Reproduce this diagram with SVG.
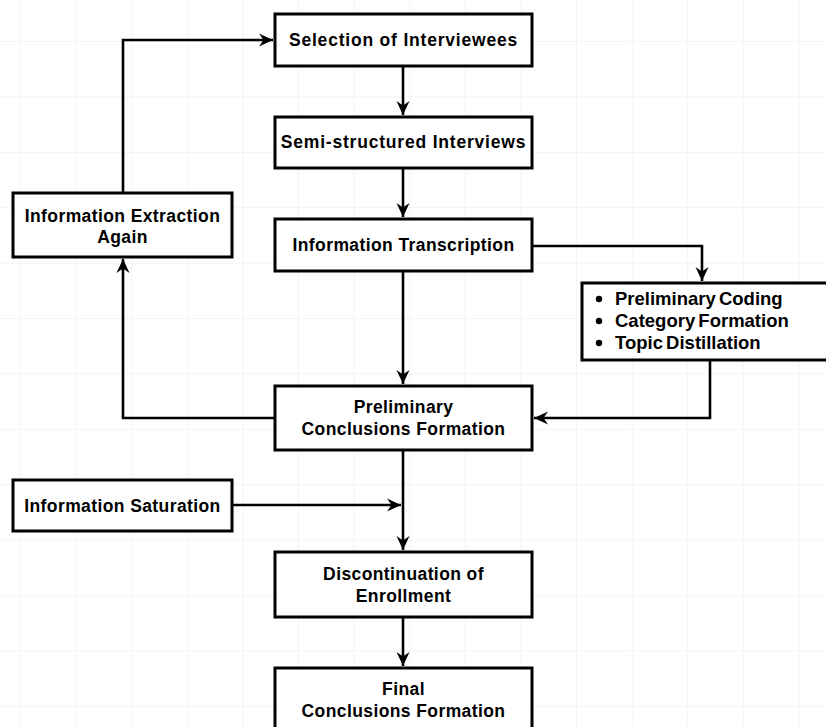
<svg xmlns="http://www.w3.org/2000/svg" width="826" height="727" viewBox="0 0 826 727">
<defs>
<pattern id="grid" x="20" y="41" width="55.6" height="55.4" patternUnits="userSpaceOnUse">
<path d="M0,0 H55.6 M0,0 V55.4" fill="none" stroke="#f1f1f1" stroke-width="1.5"/>
</pattern>
<marker id="arr" viewBox="-14 -8 16 16" refX="0" refY="0" markerWidth="16" markerHeight="16" markerUnits="userSpaceOnUse" orient="auto">
<path d="M0,0 L-14,-6.5 L-9.5,0 L-14,6.5 Z" fill="#000"/>
</marker>
<style>
.box{fill:#fff;stroke:#000;stroke-width:3}
.t{font-family:"Liberation Sans",Arial,sans-serif;font-weight:bold;font-size:17.5px;fill:#000;text-anchor:middle;letter-spacing:0.4px}
.w{letter-spacing:0.8px}
.l{font-family:"Liberation Sans",Arial,sans-serif;font-weight:bold;font-size:18.5px;fill:#000;word-spacing:-2px}
.c{fill:none;stroke:#000;stroke-width:2.6;marker-end:url(#arr)}
</style>
</defs>
<rect width="826" height="727" fill="#fff"/>
<rect width="826" height="727" fill="url(#grid)"/>
<g id="connectors">
<path class="c" d="M403,66 V115"/>
<path class="c" d="M403,168 V217"/>
<path class="c" d="M403,271 V384"/>
<path class="c" d="M532,246 H702 V281"/>
<path class="c" d="M710,360 V418 H534"/>
<path class="c" d="M275,418 H123 V259"/>
<path class="c" d="M123,193 V40 H273"/>
<path class="c" d="M403,450 V550"/>
<path class="c" d="M232,505 H401"/>
<path class="c" d="M403,617 V666"/>
</g>
<g id="selection">
<rect class="box" x="275" y="14" width="257" height="52"/>
<text class="t w" x="403.5" y="46">Selection of Interviewees</text>
</g>
<g id="semi">
<rect class="box" x="275" y="117" width="257" height="51"/>
<text class="t w" x="403.5" y="148">Semi-structured Interviews</text>
</g>
<g id="transcription">
<rect class="box" x="275" y="219" width="257" height="52"/>
<text class="t" x="403.5" y="251">Information Transcription</text>
</g>
<g id="extraction">
<rect class="box" x="13" y="193" width="219" height="64"/>
<text class="t" x="122.5" y="222">Information Extraction</text>
<text class="t" x="122.5" y="243">Again</text>
</g>
<g id="coding">
<rect class="box" x="582" y="283" width="250" height="77"/>
<circle cx="599" cy="299" r="3.2"/>
<circle cx="599" cy="321" r="3.2"/>
<circle cx="599" cy="343" r="3.2"/>
<text class="l" x="615" y="305">Preliminary Coding</text>
<text class="l" x="615" y="327">Category Formation</text>
<text class="l" x="615" y="349">Topic Distillation</text>
</g>
<g id="preliminary">
<rect class="box" x="275" y="386" width="257" height="64"/>
<text class="t" x="403.5" y="413">Preliminary</text>
<text class="t" x="403.5" y="435">Conclusions Formation</text>
</g>
<g id="saturation">
<rect class="box" x="13" y="480" width="219" height="51"/>
<text class="t" x="122.5" y="512">Information Saturation</text>
</g>
<g id="discontinuation">
<rect class="box" x="275" y="552" width="257" height="65"/>
<text class="t" x="403.5" y="580">Discontinuation of</text>
<text class="t" x="403.5" y="602">Enrollment</text>
</g>
<g id="final">
<rect class="box" x="275" y="668" width="257" height="66"/>
<text class="t" x="403.5" y="695">Final</text>
<text class="t" x="403.5" y="717">Conclusions Formation</text>
</g>
</svg>
